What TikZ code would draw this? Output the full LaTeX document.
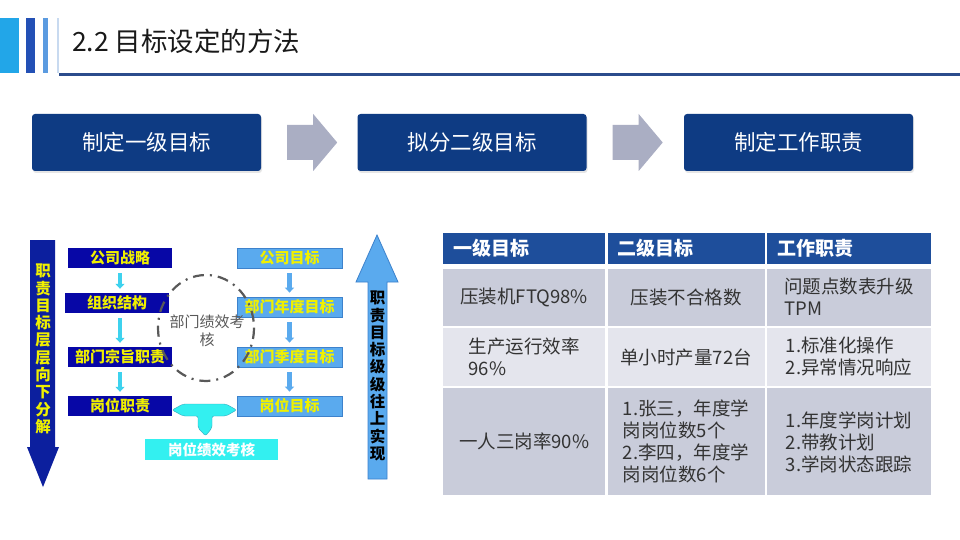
\documentclass[tikz,border=0pt]{standalone}
\usepackage{fontspec}
\setmainfont{Noto Sans CJK SC}
\usepackage{xcolor}
\usepackage{tikz}
\usetikzlibrary{arrows.meta, positioning, calc, shadows}

\definecolor{navy}{HTML}{0E3B83}
\definecolor{chevgray}{HTML}{AAAEC3}
\definecolor{hdblue}{HTML}{1E4E9B}
\definecolor{rowdark}{HTML}{C9CCDA}
\definecolor{rowlight}{HTML}{E4E5ED}
\definecolor{txtgray}{HTML}{333333}
\definecolor{dkblue}{HTML}{0707A6}
\definecolor{downblue}{HTML}{0C1F9E}
\definecolor{ylw}{HTML}{F0F000}
\definecolor{ltblue}{HTML}{5AAAEE}
\definecolor{ltedge}{HTML}{3D82CC}
\definecolor{cyanarr}{HTML}{3ED2EE}
\definecolor{pbcyan}{HTML}{33F0F0}
\definecolor{barcyan}{HTML}{22A6E8}
\definecolor{barblue}{HTML}{2350B5}
\definecolor{barlight}{HTML}{5B9BE0}
\definecolor{rulelight}{HTML}{C8DAF0}
\definecolor{ruleblue}{HTML}{2B4C8C}

\begin{document}
\begin{tikzpicture}[x=1pt, y=-1pt,
        stepbox/.style={fill=navy, rounded corners=3pt, minimum width=229pt,
            minimum height=57pt, text=white, font=\fontsize{21.5}{25}\selectfont,
            drop shadow={opacity=0.2, shadow xshift=1pt, shadow yshift=-2pt}},
        leftbox/.style={fill=dkblue, minimum width=104pt, minimum height=20pt,
            inner sep=0pt, text=ylw, font=\bfseries\fontsize{15}{17}\selectfont},
        rightbox/.style={fill=ltblue, draw=ltedge, line width=0.8pt, minimum width=105pt,
            minimum height=20pt, inner sep=0pt, text=ylw, font=\bfseries\fontsize{15}{17}\selectfont},
        downtick/.style={line width=4.5pt, -{Triangle[width=9pt,length=5pt]},
            shorten <=5pt, shorten >=4pt},
        hcell/.style={fill=hdblue, text=white, font=\bfseries\fontsize{19}{21}\selectfont,
            minimum height=31pt, inner xsep=10pt, inner ysep=0pt, text width=#1, align=left},
        cell/.style={fill=#1, text=txtgray, font=\fontsize{18.5}{22}\selectfont,
            inner sep=0pt, align=left},
        vtext/.style={font=\bfseries\fontsize{15.5}{17.3}\selectfont, align=center, inner sep=0pt}]

    \useasboundingbox[fill=white] (0,0) rectangle (960,540);

    % header bar
    \fill[barcyan] (0,18) rectangle (19,73);
    \fill[barblue] (26,18) rectangle (35,73);
    \fill[barlight] (43,18) rectangle (48,73);
    \fill[rulelight] (57,18) rectangle (59,73);
    \fill[ruleblue] (59,73) rectangle (960,76);
    \node[anchor=west, inner sep=0pt, text=black!90, font=\fontsize{26.5}{30}\selectfont]
        (title) at (72,41) {2.2 目标设定的方法};

    % steps
    \node[stepbox] (s1) at (146.5,142.5) {制定一级目标};
    \node[stepbox] (s2) at (472,142.5) {拟分二级目标};
    \node[stepbox] (s3) at (798.5,142.5) {制定工作职责};
    \fill[chevgray] ($(s1.east)+(26,-17.5)$) -- ++(26,0) -- ++(0,-11) -- ++(24,28.5)
        -- ++(-24,28.5) -- ++(0,-11) -- ++(-26,0) -- cycle;
    \fill[chevgray] ($(s2.east)+(26,-17.5)$) -- ++(26,0) -- ++(0,-11) -- ++(24,28.5)
        -- ++(-24,28.5) -- ++(0,-11) -- ++(-26,0) -- cycle;

    % left: down arrow
    \fill[downblue] (30,240) -- (55,240) -- (55,447) -- (59,447) -- (43,487)
        -- (27,447) -- (30,447) -- cycle;
    \node[vtext, text=ylw] (downtxt) at (43,349) {职\\责\\目\\标\\层\\层\\向\\下\\分\\解};

    \node[leftbox] (ls1) at (120,258) {公司战略};
    \node[leftbox] (ls2) at (117,303) {组织结构};
    \node[leftbox] (ls3) at (120,357) {部门宗旨职责};
    \node[leftbox] (ls4) at (120,406) {岗位职责};
    \draw[downtick, cyanarr] (ls1) -- (ls1 |- ls2.north);
    \draw[downtick, cyanarr] (ls2.south -| ls1) -- (ls3);
    \draw[downtick, cyanarr] (ls3) -- (ls4);

    \node[rightbox] (rs1) at (289.5,258) {公司目标};
    \node[rightbox] (rs2) at (289.5,307) {部门年度目标};
    \node[rightbox] (rs3) at (289.5,357) {部门季度目标};
    \node[rightbox] (rs4) at (289.5,406) {岗位目标};
    \draw[downtick, ltblue] (rs1) -- (rs2);
    \draw[downtick, ltblue] (rs2) -- (rs3);
    \draw[downtick, ltblue] (rs3) -- (rs4);

    % dashed circle
    \draw[black!65, line width=2.2pt, dash pattern=on 11pt off 6pt on 2pt off 6pt]
        (206,328) ellipse [x radius=48, y radius=53];
    \node[text=black!65, align=center, font=\fontsize{15}{18}\selectfont, inner sep=0pt]
        (circtxt) at (207,331) {部门绩效考\\核};

    % post assessment
    \node[fill=pbcyan, minimum width=133pt, minimum height=21pt, inner sep=0pt,
        text=white, font=\bfseries\fontsize{14.5}{16}\selectfont] (pb) at (211.5,449.5) {岗位绩效考核};
    \coordinate (tl) at ($(ls4.east)+(0,4)$);
    \coordinate (tr) at ($(rs4.west)+(0,4)$);
    \coordinate (tip) at ($(pb.north)+(-6,-3)$);
    \filldraw[fill=pbcyan, draw=cyanarr!80!black, line width=0.4pt, rounded corners=2pt]
        (tl) -- (183,404) -- (226,404) -- (tr) -- (226,416) -- (212,416) -- (212,428)
        -- (tip) -- (198,428) -- (198,416) -- (183,416) -- cycle;

    % right: up arrow
    \filldraw[fill=ltblue, draw=ltedge, line width=0.8pt] (368,479) -- (368,282) -- (356,282)
        -- (377,235) -- (398,282) -- (387,282) -- (387,479) -- cycle;
    \node[vtext, text=black] (uptxt) at (377.5,376) {职\\责\\目\\标\\级\\级\\往\\上\\实\\现};

    % table
    \node[hcell=142pt, anchor=north west] (h1) at (443,233) {一级目标};
    \node[hcell=137pt, right=2pt of h1] (h2) {二级目标};
    \node[hcell=144pt, right=2pt of h2] (h3) {工作职责};

    \node[cell=rowdark, minimum width=162pt, minimum height=57pt, below=4pt of h1] (c11) {压装机FTQ98\%};
    \node[cell=rowdark, minimum width=157pt, minimum height=57pt, right=2pt of c11] (c12) {压装不合格数};
    \node[cell=rowdark, minimum width=164pt, minimum height=57pt, right=2pt of c12] (c13) {问题点数表升级\\TPM};

    \node[cell=rowlight, minimum width=162pt, minimum height=58pt, below=2pt of c11] (c21) {生产运行效率\\96\%};
    \node[cell=rowlight, minimum width=157pt, minimum height=58pt, right=2pt of c21] (c22) {单小时产量72台};
    \node[cell=rowlight, minimum width=164pt, minimum height=58pt, right=2pt of c22] (c23) {1.标准化操作\\2.异常情况响应};

    \node[cell=rowdark, minimum width=162pt, minimum height=107pt, below=2pt of c21] (c31) {一人三岗率90\%};
    \node[cell=rowdark, minimum width=157pt, minimum height=107pt, right=2pt of c31] (c32)
        {1.张三，年度学\\岗岗位数5个\\2.李四，年度学\\岗岗位数6个};
    \node[cell=rowdark, minimum width=164pt, minimum height=107pt, right=2pt of c32] (c33)
        {1.年度学岗计划\\2.带教计划\\3.学岗状态跟踪};
\end{tikzpicture}
\end{document}
